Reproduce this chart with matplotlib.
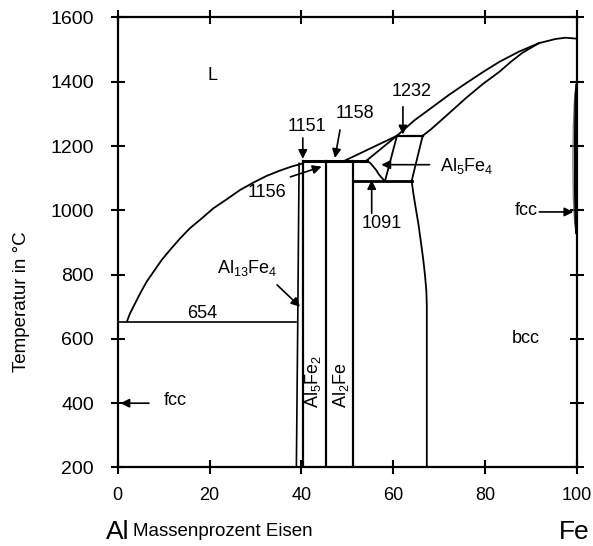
import matplotlib
matplotlib.use('Agg')
import matplotlib.pyplot as plt

plt.rcParams['font.family'] = ['Liberation Sans', 'DejaVu Sans']
plt.rcParams['mathtext.fontset'] = 'custom'
plt.rcParams['mathtext.rm'] = 'Liberation Sans'
plt.rcParams['mathtext.it'] = 'Liberation Sans'

# phase boundaries (mass-% Fe, temperature in degC)
liq_al_x = [2.0, 2.7, 3.8, 4.9, 6.3, 7.8, 9.6, 11.4, 13.6, 15.7, 18.3, 20.8,
            23.7, 26.6, 29.5, 32.4, 35.2, 37.8, 40.3]
liq_al_t = [654, 680, 711, 742, 778, 809, 846, 877, 913, 944, 975, 1006,
            1034, 1063, 1086, 1107, 1123, 1136, 1146]

liq_fe_x = [49.5, 60.8, 64.6, 68.6, 72.2, 75.8, 79.5, 83.1, 87.4, 91.7, 95.3, 97.5, 100.0]
liq_fe_t = [1155, 1232, 1280, 1322, 1360, 1395, 1430, 1462, 1494, 1520, 1533, 1537, 1534]

sol_bcc_x = [66.4, 68.2, 70.1, 73.0, 75.8, 79.5, 83.1, 85.6, 88.1, 91.7]
sol_bcc_t = [1232, 1252, 1276, 1313, 1349, 1393, 1431, 1462, 1490, 1520]

eps_sol_x = [54.2, 60.8]
eps_sol_t = [1155, 1232]
eps_left_x = [60.8, 58.2]
eps_left_t = [1232, 1091]
eps_v_x = [54.2, 55.0, 55.6, 56.3, 56.8, 57.5, 58.2]
eps_v_t = [1155, 1147, 1137, 1125, 1113, 1101, 1091]
eps_right_x = [66.4, 64.0]
eps_right_t = [1232, 1091]
bcc_left_x = [64.0, 64.4, 64.9, 65.5, 66.0, 66.5, 66.9, 67.2, 67.3, 67.3]
bcc_left_t = [1091, 1050, 1006, 955, 903, 850, 799, 750, 706, 200]

al13_left_x = [38.9, 39.2, 39.4, 39.5]
al13_left_t = [200, 650, 1000, 1146]
al13_right_x = [40.3, 40.3]
al13_right_t = [200, 1155]
al5fe2_x = [45.4, 45.4]
al5fe2_t = [200, 1155]
al2fe_x = [51.2, 51.2]
al2fe_t = [200, 1155]

eutectic_654_x = [0, 38.9]
eutectic_654_t = [654, 654]
line_1158_x = [40.3, 54.2]
line_1158_t = [1155, 1155]
line_1091_x = [51.2, 64.0]
line_1091_t = [1091, 1091]
line_1232_x = [60.8, 66.4]
line_1232_t = [1232, 1232]

gamma_out_x = [100.0, 99.5, 99.2, 99.1, 99.2, 99.5, 100.0]
gamma_out_t = [1400, 1360, 1260, 1150, 1040, 960, 925]
gamma_in_x = [99.9, 99.7, 99.6, 99.6, 99.7, 99.85]
gamma_in_t = [1390, 1330, 1200, 1080, 990, 930]

# annotations: text, text pos, arrow tail, arrow tip
arrow_labels = [
    ('1151', (41.2, 1262), (40.3, 1225), (40.3, 1160)),
    ('1158', (51.6, 1302), (48.4, 1250), (47.3, 1163)),
    ('1156', (32.4, 1054), (37.6, 1104), (44.4, 1136)),
    ('1232', (63.9, 1369), (62.1, 1322), (62.1, 1236)),
    ('1091', (57.4, 960), (55.3, 991), (55.3, 1094)),
    (r'Al$_{13}$Fe$_4$', (28.2, 820), (34.7, 768), (39.7, 700)),
    ('fcc', (12.6, 407), (6.8, 400), (0.6, 400)),
    ('fcc', (88.9, 998), (91.8, 995), (99.2, 995)),
]
plain_labels = [
    ('654', (18.4, 680)),
    ('L', (20.7, 1421)),
    ('bcc', (88.9, 600)),
]

fig = plt.figure(figsize=(5.93, 5.46), dpi=100)
ax = fig.add_axes([0.1985, 0.1438, 0.7745, 0.8242])

k = 'black'
ax.plot(liq_al_x, liq_al_t, color=k, lw=1.3)
ax.plot(liq_fe_x, liq_fe_t, color=k, lw=1.3)
ax.plot(sol_bcc_x, sol_bcc_t, color=k, lw=1.3)
ax.plot(eps_sol_x, eps_sol_t, color=k, lw=1.3)
ax.plot(eps_left_x, eps_left_t, color=k, lw=1.3)
ax.plot(eps_v_x, eps_v_t, color=k, lw=1.3)
ax.plot(eps_right_x, eps_right_t, color=k, lw=1.3)
ax.plot(bcc_left_x, bcc_left_t, color=k, lw=1.3)
ax.plot(al13_left_x, al13_left_t, color=k, lw=1.2)
ax.plot(al13_right_x, al13_right_t, color=k, lw=1.6)
ax.plot(al5fe2_x, al5fe2_t, color=k, lw=1.6)
ax.plot(al2fe_x, al2fe_t, color=k, lw=1.6)
ax.plot(eutectic_654_x, eutectic_654_t, color=k, lw=1.2)
ax.plot(line_1158_x, line_1158_t, color=k, lw=2.2)
ax.plot(line_1091_x, line_1091_t, color=k, lw=2.0)
ax.plot(line_1232_x, line_1232_t, color=k, lw=1.6)
ax.plot(gamma_out_x, gamma_out_t, color='0.45', lw=0.9)
ax.plot(gamma_in_x, gamma_in_t, color=k, lw=1.8)

for txt, tpos, tail, tip in arrow_labels:
    ax.text(tpos[0], tpos[1], txt, fontsize=13, ha='center', va='center')
    ax.annotate('', xy=tip, xytext=tail,
                arrowprops=dict(arrowstyle='-|>', color=k, lw=1.2,
                                mutation_scale=13, shrinkA=0, shrinkB=0))

# Al5Fe4 label with arrow from its left side
ax.text(70.1, 1138, r'Al$_5$Fe$_4$', fontsize=13, ha='left', va='center')
ax.annotate('', xy=(57.4, 1142), xytext=(67.9, 1142),
            arrowprops=dict(arrowstyle='-|>', color=k, lw=1.2,
                            mutation_scale=13, shrinkA=0, shrinkB=0))

for txt, pos in plain_labels:
    ax.text(pos[0], pos[1], txt, fontsize=13, ha='center', va='center')

ax.text(42.6, 467, r'Al$_5$Fe$_2$', fontsize=13, rotation=90, ha='center', va='center')
ax.text(48.6, 457, r'Al$_2$Fe', fontsize=13, rotation=90, ha='center', va='center')

ax.set_xlim(0, 100)
ax.set_ylim(200, 1600)
ax.set_xticks(range(0, 101, 20))
ax.set_yticks(range(200, 1601, 200))
ax.tick_params(direction='inout', length=10, width=1.5, top=True, right=True,
               labeltop=False, labelright=False)
ax.tick_params(axis='x', pad=9, labelsize=13)
ax.tick_params(axis='y', pad=12, labelsize=14)
for sp in ax.spines.values():
    sp.set_linewidth(1.6)

fig.text(22 / 593, 1 - 302 / 546, 'Temperatur in °C', rotation=90,
         ha='center', va='center', fontsize=13.5)
fig.text(223 / 593, 1 - 532 / 546, 'Massenprozent Eisen', ha='center', va='center', fontsize=13.5)
fig.text(118 / 593, 1 - 532 / 546, 'Al', ha='center', va='center', fontsize=19)
fig.text(574 / 593, 1 - 532 / 546, 'Fe', ha='center', va='center', fontsize=19)

fig.savefig('out.png', dpi=100)
